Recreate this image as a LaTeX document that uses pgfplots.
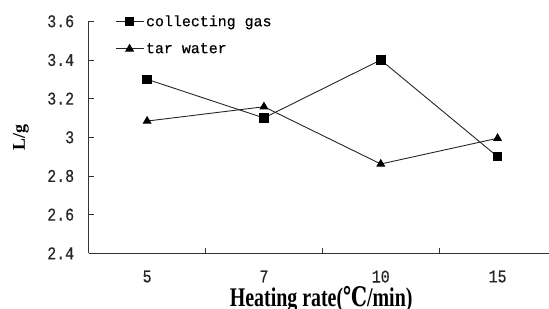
\documentclass[border=0pt]{standalone}
\usepackage{fontspec}
\setmainfont{Liberation Mono}[UprightFeatures={FakeBold=0.45}]
\newfontfamily\lserif{Liberation Serif}
\newfontfamily\dv{DejaVu Serif}
\usepackage{pgfplots}
\pgfplotsset{compat=1.18}
\begin{document}
\begin{tikzpicture}
\useasboundingbox (-88.7bp,-55.7bp) rectangle (460.3bp,253.3bp);
\begin{axis}[
  scale only axis, width=460.3bp, height=232bp,
  at={(0,0)}, anchor=south west,
  xmin=-0.5, xmax=3.44, ymin=2.4, ymax=3.6,
  axis x line*=bottom, axis y line*=left,
  axis line style={line width=0.9bp, black!80},
  xtick={0.5,1.5,2.5}, xticklabels={},
  extra x ticks={0,1,2,3}, extra x tick labels={5,7,10,15},
  extra x tick style={major tick length=0pt, xticklabel shift=13bp},
  ytick={2.4,2.6,...,3.61},
  yticklabels={2.4\hspace*{11bp},2.6\hspace*{11bp},2.8\hspace*{11bp},3\hspace*{11bp},3.2\hspace*{11bp},3.4\hspace*{11bp},3.6\hspace*{11bp}},
  major tick length=5bp, tick align=inside,
  tick style={line width=0.8bp, black!80},
  ticklabel style={font=\fontsize{15}{17}\selectfont, text=black!85, yscale=1.2},
  xlabel={\lserif\bfseries Heating rate({\dv\bfseries ℃}/min)},
  xlabel style={at={(axis description cs:0.505,-0.230)}, anchor=base, inner sep=0pt, font=\fontsize{20}{22}\selectfont, yscale=1.35},
  ylabel={\lserif\bfseries L/g},
  ylabel style={at={(axis description cs:-0.147,0.501)}, anchor=center, font=\fontsize{18}{20}\selectfont},
  legend style={at={(axis description cs:0.057,1.035)}, anchor=north west, draw=none, fill=none,
    font=\fontsize{15}{17}\selectfont, inner sep=0pt, row sep=11.5bp,
    nodes={inner sep=2bp}},
  legend cell align=left,
  legend image code/.code={\draw[mark repeat=2,mark phase=2,#1] plot coordinates {(0bp,0bp)(14bp,0bp)(28bp,0bp)};},
  every axis plot/.append style={line width=0.9bp, black!85},
]
\addplot[mark=square*, mark size=4.3bp, mark options={fill=black, draw=black}] coordinates {(0,3.30) (1,3.10) (2,3.40) (3,2.90)};
\addlegendentry{collecting gas}
\addplot[mark=triangle*, mark size=4.3bp, mark options={fill=black, draw=black}] coordinates {(0,3.084) (1,3.158) (2,2.862) (3,2.995)};
\addlegendentry{tar water}
\end{axis}
\end{tikzpicture}
\end{document}
